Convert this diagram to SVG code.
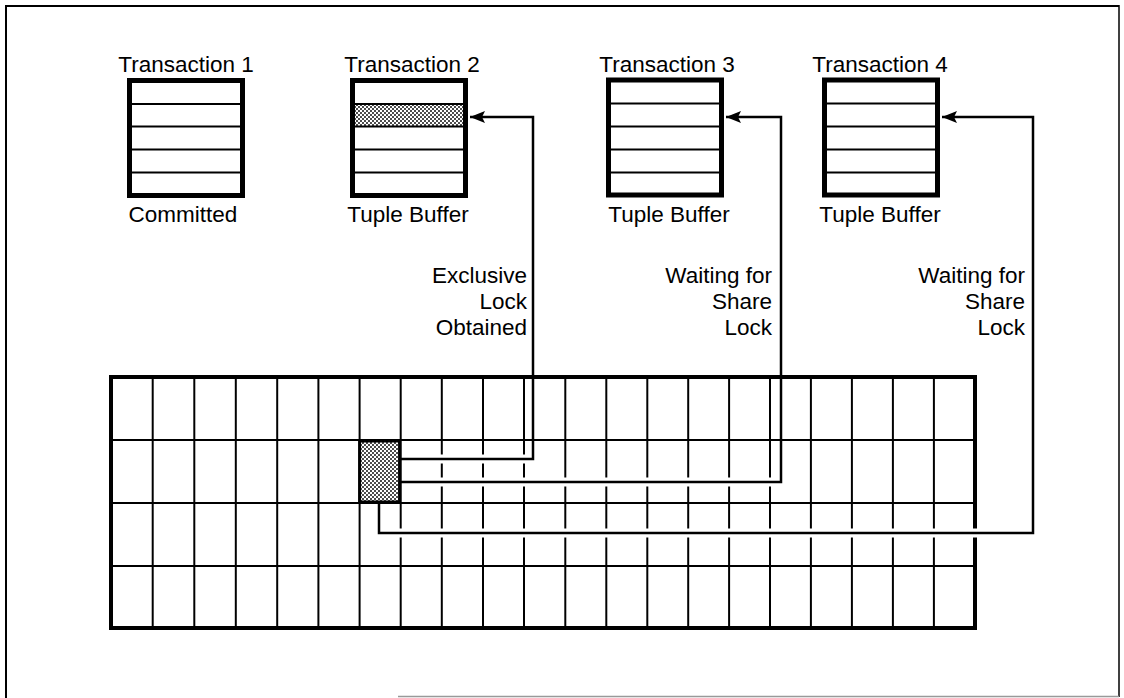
<svg xmlns="http://www.w3.org/2000/svg" width="1124" height="698" viewBox="0 0 1124 698">
<style>
.t{font-family:"Liberation Sans",Arial,Helvetica,sans-serif;font-size:22.5px;fill:#000}
.m{text-anchor:middle}
.e{text-anchor:end}
.box{fill:#fff;stroke:#000;stroke-width:5}
.row{stroke:#000;stroke-width:2}
.gl{stroke:#000;stroke-width:2}
.gb{fill:none;stroke:#000;stroke-width:4}
.halo{stroke:#fff;stroke-width:9;fill:none}
.con{stroke:#000;stroke-width:2.5;fill:none;stroke-linejoin:miter}
</style>
<defs>
<pattern id="stip" width="4" height="4" patternUnits="userSpaceOnUse">
<rect width="4" height="4" fill="#fff"/>
<circle cx="1" cy="1" r="0.95" fill="#000"/>
<circle cx="3" cy="3" r="0.95" fill="#000"/>
</pattern>
<marker id="arr" markerUnits="userSpaceOnUse" markerWidth="16" markerHeight="14" refX="15" refY="7" orient="auto">
<path d="M0,1 L15,7 L0,13 L3,7 z" fill="#000"/>
</marker>
</defs>
<rect width="1124" height="698" fill="#fff"/>
<g id="frame">
<line x1="6" y1="6" x2="1119" y2="6" stroke="#000" stroke-width="2"/>
<line x1="6" y1="5" x2="6" y2="698" stroke="#000" stroke-width="2"/>
<line x1="1119" y1="5" x2="1119" y2="697" stroke="#000" stroke-width="1.5"/>
<line x1="398" y1="696.5" x2="1119" y2="696.5" stroke="#999" stroke-width="1.5"/>
</g>
<g id="t1">
<text class="t m" x="186" y="72">Transaction 1</text>
<rect class="box" x="129.5" y="80.5" width="113" height="115"/>
<line class="row" x1="130" y1="104" x2="242" y2="104"/>
<line class="row" x1="130" y1="126.5" x2="242" y2="126.5"/>
<line class="row" x1="130" y1="149.5" x2="242" y2="149.5"/>
<line class="row" x1="130" y1="172.5" x2="242" y2="172.5"/>
<text class="t m" x="183" y="222">Committed</text>
</g>
<g id="t2">
<text class="t m" x="412" y="72">Transaction 2</text>
<rect class="box" x="352.5" y="80.5" width="113" height="115"/>
<rect x="355" y="104" width="108" height="22.5" fill="url(#stip)"/>
<line class="row" x1="353" y1="104" x2="465" y2="104"/>
<line class="row" x1="353" y1="126.5" x2="465" y2="126.5"/>
<line class="row" x1="353" y1="149.5" x2="465" y2="149.5"/>
<line class="row" x1="353" y1="172.5" x2="465" y2="172.5"/>
<text class="t m" x="408" y="222">Tuple Buffer</text>
</g>
<g id="t3">
<text class="t m" x="667" y="72">Transaction 3</text>
<rect class="box" x="608.5" y="80" width="113" height="115"/>
<line class="row" x1="609" y1="103.5" x2="721" y2="103.5"/>
<line class="row" x1="609" y1="126.5" x2="721" y2="126.5"/>
<line class="row" x1="609" y1="149.5" x2="721" y2="149.5"/>
<line class="row" x1="609" y1="172.5" x2="721" y2="172.5"/>
<text class="t m" x="669" y="222">Tuple Buffer</text>
</g>
<g id="t4">
<text class="t m" x="880" y="72">Transaction 4</text>
<rect class="box" x="824.5" y="80" width="113" height="115"/>
<line class="row" x1="825" y1="103.5" x2="937" y2="103.5"/>
<line class="row" x1="825" y1="126.5" x2="937" y2="126.5"/>
<line class="row" x1="825" y1="149.5" x2="937" y2="149.5"/>
<line class="row" x1="825" y1="172.5" x2="937" y2="172.5"/>
<text class="t m" x="880" y="222">Tuple Buffer</text>
</g>
<g id="table">
<g class="gl">
<line x1="152.7" y1="377" x2="152.7" y2="628"/>
<line x1="194.3" y1="377" x2="194.3" y2="628"/>
<line x1="235.8" y1="377" x2="235.8" y2="628"/>
<line x1="277.2" y1="377" x2="277.2" y2="628"/>
<line x1="318.4" y1="377" x2="318.4" y2="628"/>
<line x1="359.6" y1="377" x2="359.6" y2="628"/>
<line x1="400.7" y1="377" x2="400.7" y2="628"/>
<line x1="441.8" y1="377" x2="441.8" y2="628"/>
<line x1="483" y1="377" x2="483" y2="628"/>
<line x1="524" y1="377" x2="524" y2="628"/>
<line x1="565.3" y1="377" x2="565.3" y2="628"/>
<line x1="606.3" y1="377" x2="606.3" y2="628"/>
<line x1="647.3" y1="377" x2="647.3" y2="628"/>
<line x1="688.2" y1="377" x2="688.2" y2="628"/>
<line x1="729.1" y1="377" x2="729.1" y2="628"/>
<line x1="770" y1="377" x2="770" y2="628"/>
<line x1="810.9" y1="377" x2="810.9" y2="628"/>
<line x1="851.9" y1="377" x2="851.9" y2="628"/>
<line x1="892.9" y1="377" x2="892.9" y2="628"/>
<line x1="933.9" y1="377" x2="933.9" y2="628"/>
<line x1="111" y1="440" x2="975" y2="440"/>
<line x1="111" y1="503" x2="975" y2="503"/>
<line x1="111" y1="566" x2="975" y2="566"/>
</g>
<rect class="gb" x="111" y="377" width="864" height="251"/>
</g>
<g id="connectors">
<line class="halo" x1="403" y1="459" x2="531" y2="459"/>
<line class="halo" x1="403" y1="482" x2="779" y2="482"/>
<line class="halo" x1="382" y1="533" x2="1031" y2="533"/>
<path class="con" d="M400,459 H533 V117 H470" marker-end="url(#arr)"/>
<path class="con" d="M400,482 H781 V117 H726" marker-end="url(#arr)"/>
<path class="con" d="M379,503 V533 H1033 V117 H942" marker-end="url(#arr)"/>
</g>
<g id="locked-cell">
<rect x="359.6" y="441" width="40" height="61" fill="url(#stip)" stroke="#000" stroke-width="3"/>
</g>
<g id="labels">
<text class="t e" x="527" y="283">Exclusive</text>
<text class="t e" x="527" y="309">Lock</text>
<text class="t e" x="527" y="335">Obtained</text>
<text class="t e" x="772" y="283">Waiting for</text>
<text class="t e" x="772" y="309">Share</text>
<text class="t e" x="772" y="335">Lock</text>
<text class="t e" x="1025" y="283">Waiting for</text>
<text class="t e" x="1025" y="309">Share</text>
<text class="t e" x="1025" y="335">Lock</text>
</g>
</svg>
